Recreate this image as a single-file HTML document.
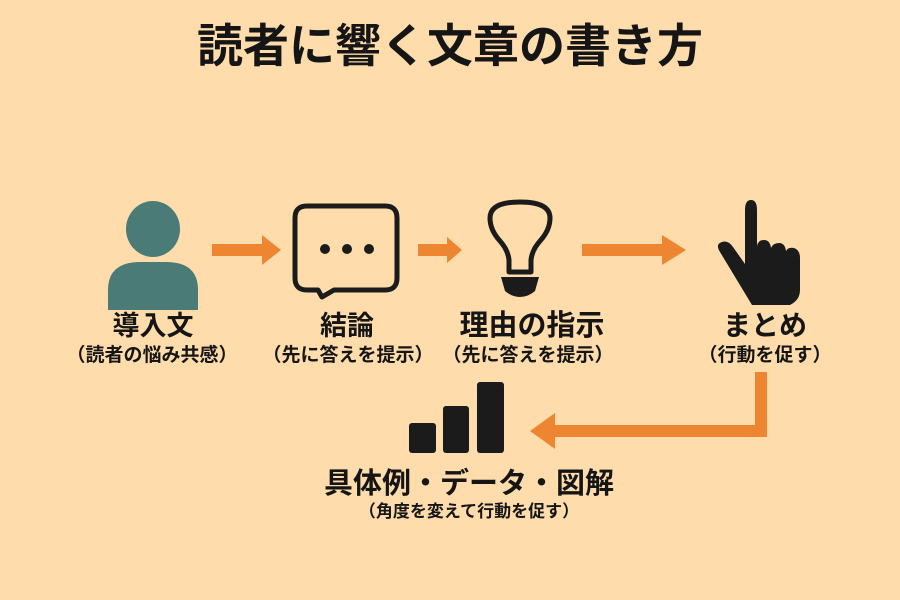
<!DOCTYPE html>
<html><head><meta charset="utf-8"><style>
body{margin:0;width:900px;height:600px;background:#fedcab;overflow:hidden;font-family:"Liberation Sans","Noto Sans CJK JP",sans-serif;}
svg{position:absolute;left:0;top:0}
text{font-family:"Liberation Sans","Noto Sans CJK JP",sans-serif;font-weight:bold;fill:#151515;text-anchor:middle}
</style></head><body>
<svg width="900" height="600" viewBox="0 0 900 600">
<text x="450" y="62" font-size="46">読者に響く文章の書き方</text>
<ellipse cx="153" cy="229" rx="27" ry="28" fill="#4a7b76"/>
<path d="M108 310 L108 290 Q108 262 140 262 L166 262 Q198 262 198 290 L198 310 Z" fill="#4a7b76"/>
<path d="M212 244 H262 V235 L281 250 L262 265 V256 H212 Z" fill="#ee8530"/>
<path d="M318 290 L322 297 L334 290 H385 Q397 290 397 278 V218 Q397 206 385 206 H307 Q295 206 295 218 V278 Q295 290 307 290 Z" fill="none" stroke="#1b1b1b" stroke-width="5" stroke-linejoin="round"/>
<circle cx="325" cy="249" r="5" fill="#1b1b1b"/><circle cx="347" cy="249" r="5" fill="#1b1b1b"/><circle cx="369" cy="249" r="5" fill="#1b1b1b"/>
<path d="M418 244 H447 V237 L462 250 L447 263 V256 H418 Z" fill="#ee8530"/>
<path d="M509 272 V260 Q508 250 500 241 Q490 230 490 218 Q490 202 520 202 Q550 202 550 218 Q550 230 540 241 Q532 250 531 260 V272 Z" fill="none" stroke="#1b1b1b" stroke-width="5" stroke-linejoin="round"/>
<path d="M501 277 H539 L535 291 Q528 297 520 297 Q512 297 505 291 Z" fill="#1b1b1b"/>
<path d="M582 244 H662 V235 L686 250 L662 265 V256 H582 Z" fill="#ee8530"/>
<path d="M745 210 Q745 200 751 200 Q757 200 757 210 V246 Q758 240 764 240 Q770 240 771 248 Q773 243 779 243 Q785 243 786 251 Q788 247 794 248 Q800 250 800 258 V290 Q800 300 790 305 H752 L720 252 Q715 244 722 242 Q728 240 733 247 L745 264 Z" fill="#1b1b1b"/>
<text x="153" y="335" font-size="27">導入文</text>
<text x="152" y="361" font-size="19">（読者の悩み共感）</text>
<text x="347" y="335" font-size="27">結論</text>
<text x="348" y="361" font-size="19">（先に答えを提示）</text>
<text x="532" y="335" font-size="29">理由の指示</text>
<text x="528" y="361" font-size="19">（先に答えを提示）</text>
<text x="765" y="335" font-size="28">まとめ</text>
<text x="765" y="361" font-size="19">（行動を促す）</text>
<path d="M755 372 H767 V437 H555 V449 L530 431 L555 413 V425 H755 Z" fill="#ee8530"/>
<rect x="409" y="423" width="27" height="30" rx="3" fill="#1b1b1b"/>
<rect x="443" y="406" width="26" height="47" rx="3" fill="#1b1b1b"/>
<rect x="477" y="382" width="27" height="71" rx="3" fill="#1b1b1b"/>
<text x="469" y="493" font-size="29">具体例・データ・図解</text>
<text x="469" y="517" font-size="17">（角度を変えて行動を促す）</text>
</svg>
</body></html>
